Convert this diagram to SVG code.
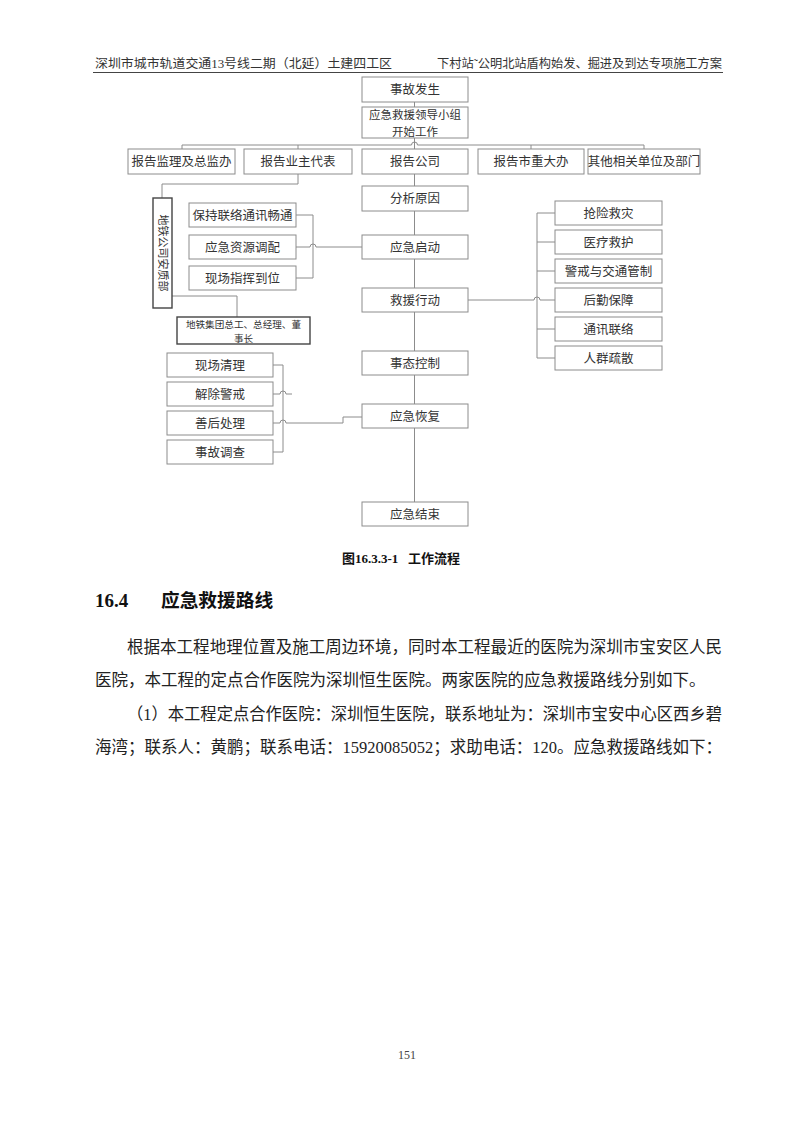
<svg xmlns="http://www.w3.org/2000/svg" width="800" height="1132" viewBox="0 0 800 1132">
<style>
.bg{fill:#ffffff}
.box rect{fill:#ffffff;stroke:#8c8c8c;stroke-width:1}
.dark rect{fill:#ffffff;stroke:#444;stroke-width:1.4}
.box text,.dark text{font-family:"Noto Sans CJK SC","Liberation Sans",sans-serif;font-size:12.5px;fill:#333;text-anchor:middle}
.conn path{fill:none;stroke:#8c8c8c;stroke-width:1}
.hdr{font-family:"Liberation Serif","Noto Sans CJK SC",serif;font-size:12.5px;fill:#333}
.body{font-family:"Liberation Serif","Noto Sans CJK SC",serif;font-size:16.5px;fill:#222}
</style>
<rect class="bg" x="0" y="0" width="800" height="1132"/>
<g id="header">
<text class="hdr" x="95" y="68" textLength="297" lengthAdjust="spacingAndGlyphs">深圳市城市轨道交通13号线二期（北延）土建四工区</text>
<text class="hdr" x="437" y="68" textLength="285" lengthAdjust="spacingAndGlyphs">下村站˜公明北站盾构始发、掘进及到达专项施工方案</text>
<path d="M93 72.5H723" stroke="#444" stroke-width="1.2" fill="none"/>
</g>
<g id="connectors" class="conn">
<path d="M414.5 102V502"/>
<path d="M182 145H411.5a3 3 0 0 1 6 0H644"/>
<path d="M182 145V149M298 145V149M531 145V149M644 145V149"/>
<path d="M298 174V184H162V198"/>
<path d="M172 296H237V317"/>
<path d="M296 215H313V278H296"/>
<path d="M296 247H310a3 3 0 0 1 6 0H362"/>
<path d="M555 213H537V358H555"/>
<path d="M537 242H555M537 271H555M537 329H555"/>
<path d="M468 300H534a3 3 0 0 1 6 0H555"/>
<path d="M273 365H283V452H273"/>
<path d="M273 394H280a3 3 0 0 1 6 0H292"/>
<path d="M273 423H280a3 3 0 0 1 6 0H343V417H362"/>
</g>
<g id="n_shigufasheng" class="box"><rect x="362" y="77" width="106" height="25"/><text x="415" y="94">事故发生</text></g>
<g id="n_lingdaoxiaozu" class="box"><rect x="362" y="107" width="106" height="31"/><text x="415" y="119" style="font-size:11.5px"><tspan x="415" y="119">应急救援领导小组</tspan><tspan x="415" y="135.8">开始工作</tspan></text></g>
<g id="n_jianli" class="box"><rect x="128" y="149" width="107" height="25"/><text x="181.5" y="166">报告监理及总监办</text></g>
<g id="n_yezhu" class="box"><rect x="244" y="149" width="108" height="25"/><text x="298" y="166">报告业主代表</text></g>
<g id="n_gongsi" class="box"><rect x="362" y="149" width="106" height="25"/><text x="415" y="166">报告公司</text></g>
<g id="n_zhongdaban" class="box"><rect x="478" y="149" width="106" height="25"/><text x="531" y="166">报告市重大办</text></g>
<g id="n_qita" class="box"><rect x="588" y="149" width="112" height="25"/><text x="644" y="166">其他相关单位及部门</text></g>
<g id="n_fenxi" class="box"><rect x="362" y="186" width="106" height="25"/><text x="415" y="203">分析原因</text></g>
<g id="n_qidong" class="box"><rect x="362" y="235" width="106" height="24"/><text x="415" y="251.5">应急启动</text></g>
<g id="n_jiuyuan" class="box"><rect x="362" y="288" width="106" height="24"/><text x="415" y="304.5">救援行动</text></g>
<g id="n_kongzhi" class="box"><rect x="362" y="351" width="106" height="24"/><text x="415" y="367.5">事态控制</text></g>
<g id="n_huifu" class="box"><rect x="362" y="404" width="106" height="24"/><text x="415" y="420.5">应急恢复</text></g>
<g id="n_jieshu" class="box"><rect x="362" y="502" width="106" height="24"/><text x="415" y="518.5">应急结束</text></g>
<g id="n_lianluo" class="box"><rect x="189" y="203" width="107" height="24"/><text x="242.5" y="219.5">保持联络通讯畅通</text></g>
<g id="n_ziyuan" class="box"><rect x="189" y="235" width="107" height="24"/><text x="242.5" y="251.5">应急资源调配</text></g>
<g id="n_zhihui" class="box"><rect x="189" y="266" width="107" height="24"/><text x="242.5" y="282.5">现场指挥到位</text></g>
<g id="n_anzhibu" class="dark"><rect x="153" y="198" width="19" height="110"/><text x="0" y="0" transform="translate(158.5 253) rotate(90)" style="font-size:11px">地铁公司安质部</text></g>
<g id="n_jituan" class="dark"><rect x="177" y="317" width="133" height="27"/><text x="243.5" y="328" style="font-size:9.6px"><tspan x="243.5" y="328">地铁集团总工、总经理、董</tspan><tspan x="243.5" y="342">事长</tspan></text></g>
<g id="n_qiangxian" class="box"><rect x="555" y="201" width="107" height="24"/><text x="608.5" y="217.5">抢险救灾</text></g>
<g id="n_yiliao" class="box"><rect x="555" y="230" width="107" height="24"/><text x="608.5" y="246.5">医疗救护</text></g>
<g id="n_jingjie" class="box"><rect x="555" y="259" width="107" height="24"/><text x="608.5" y="275.5">警戒与交通管制</text></g>
<g id="n_houqin" class="box"><rect x="555" y="288" width="107" height="24"/><text x="608.5" y="304.5">后勤保障</text></g>
<g id="n_tongxun" class="box"><rect x="555" y="317" width="107" height="24"/><text x="608.5" y="333.5">通讯联络</text></g>
<g id="n_shusan" class="box"><rect x="555" y="346" width="107" height="24"/><text x="608.5" y="362.5">人群疏散</text></g>
<g id="n_qingli" class="box"><rect x="167" y="353" width="106" height="24"/><text x="220" y="369.5">现场清理</text></g>
<g id="n_jiechu" class="box"><rect x="167" y="382" width="106" height="24"/><text x="220" y="398.5">解除警戒</text></g>
<g id="n_shanhou" class="box"><rect x="167" y="411" width="106" height="24"/><text x="220" y="427.5">善后处理</text></g>
<g id="n_diaocha" class="box"><rect x="167" y="440" width="106" height="24"/><text x="220" y="456.5">事故调查</text></g>
<g id="text">
<text x="342" y="563" style="font-family:'Liberation Serif','Noto Sans CJK SC',serif;font-size:13px;font-weight:bold;fill:#111" xml:space="preserve">图16.3.3-1   工作流程</text>
<text x="95" y="607" style="font-family:'Liberation Serif','Noto Sans CJK SC',serif;font-size:19px;font-weight:bold;fill:#111">16.4</text>
<text x="161" y="607" style="font-family:'Liberation Serif','Noto Sans CJK SC',serif;font-size:18.7px;font-weight:bold;fill:#111">应急救援路线</text>
<text class="body" x="127" y="653" textLength="595" lengthAdjust="spacingAndGlyphs">根据本工程地理位置及施工周边环境，同时本工程最近的医院为深圳市宝安区人民</text>
<text class="body" x="95" y="686">医院，本工程的定点合作医院为深圳恒生医院。两家医院的应急救援路线分别如下。</text>
<text class="body" x="127" y="720" textLength="595" lengthAdjust="spacingAndGlyphs">（1）本工程定点合作医院：深圳恒生医院，联系地址为：深圳市宝安中心区西乡碧</text>
<text class="body" x="95" y="753">海湾；联系人：黄鹏；联系电话：15920085052；求助电话：120。应急救援路线如下：</text>
<text x="407" y="1059" style="font-family:'Liberation Serif',serif;font-size:12px;fill:#444;text-anchor:middle">151</text>
</g>
</svg>
